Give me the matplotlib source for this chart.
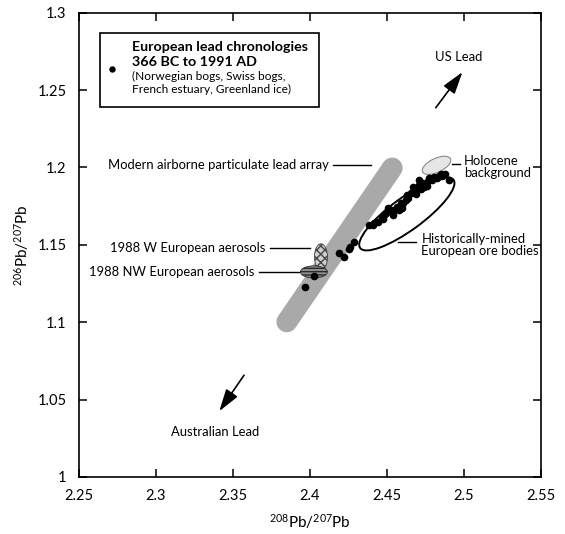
import numpy as np
import matplotlib
matplotlib.use('Agg')
import matplotlib.pyplot as plt
from matplotlib.patches import Ellipse, Rectangle

plt.rcParams['font.family'] = ['Lato', 'DejaVu Sans']
plt.rcParams['mathtext.default'] = 'regular'

# European lead chronologies (208Pb/207Pb, 206Pb/207Pb)
chron_x = [2.3965, 2.4025, 2.4191, 2.4224, 2.4252, 2.4263, 2.4289,
           2.4386, 2.4407, 2.4418, 2.4440, 2.4472, 2.4468, 2.4483, 2.4494,
           2.4510, 2.4526, 2.4537, 2.4548, 2.4569, 2.4580, 2.4590, 2.4600,
           2.4602, 2.4623, 2.4634, 2.4640, 2.4656, 2.4667, 2.4678, 2.4690,
           2.4699, 2.4710, 2.4710, 2.4720, 2.4731, 2.4742, 2.4760, 2.4764,
           2.4775, 2.4796, 2.4807, 2.4829, 2.4840, 2.4850, 2.4861, 2.4880,
           2.4904]
chron_y = [1.1225, 1.1300, 1.1446, 1.1424, 1.1472, 1.1489, 1.1521,
           1.1629, 1.1629, 1.1640, 1.1650, 1.1666, 1.1672, 1.1694, 1.1705,
           1.1740, 1.1726, 1.1694, 1.1726, 1.1747, 1.1726, 1.1770, 1.1740,
           1.1769, 1.1791, 1.1823, 1.1800, 1.1834, 1.1877, 1.1844, 1.1830,
           1.1866, 1.1888, 1.1920, 1.1860, 1.1898, 1.1877, 1.1880, 1.1909,
           1.1931, 1.1920, 1.1941, 1.1931, 1.1946, 1.1960, 1.1946, 1.1955,
           1.1920]

# modern airborne particulate lead array (end points of the band)
array_x = [2.3850, 2.4535]
array_y = [1.1002, 1.1997]

# fields: centre x, centre y, width, height, angle
ore_field = (2.4630, 1.1700, 0.0750, 0.0210, 36)
holocene_field = (2.4823, 1.2014, 0.0200, 0.0090, 25)
w_aerosol = (2.4072, 1.1422, 0.0085, 0.0170, 0)
nw_aerosol = (2.4026, 1.1325, 0.0175, 0.0078, 0)

xticks = [2.25, 2.3, 2.35, 2.4, 2.45, 2.5, 2.55]
yticks = [1, 1.05, 1.1, 1.15, 1.2, 1.25, 1.3]

fig = plt.figure(figsize=(5.65, 5.34), dpi=100)
ax = fig.add_axes([0.140, 0.107, 0.817, 0.869])

# band
ax.plot(array_x, array_y, color='#a9a9a9', lw=15, solid_capstyle='round', zorder=1)

# holocene background
cx, cy, w, h, a = holocene_field
ax.add_patch(Ellipse((cx, cy), w, h, angle=a, facecolor='#e6e6e6',
                     edgecolor='#8a8a8a', lw=0.8, zorder=2))

# historically mined ore bodies
cx, cy, w, h, a = ore_field
ax.add_patch(Ellipse((cx, cy), w, h, angle=a, facecolor='none',
                     edgecolor='black', lw=1.4, zorder=3))

# aerosols
cx, cy, w, h, a = w_aerosol
ax.add_patch(Ellipse((cx, cy), w, h, angle=a, facecolor='#cfcfcf',
                     edgecolor='#444444', hatch='xxxx', lw=0.6, zorder=3))
cx, cy, w, h, a = nw_aerosol
ax.add_patch(Ellipse((cx, cy), w, h, angle=a, facecolor='#8f8f8f',
                     edgecolor='#2a2a2a', hatch='-----', lw=0.6, zorder=4))

# data points
ax.plot(chron_x, chron_y, 'o', color='black', ms=4.5, zorder=5)

fs = 9.4
# labels with leader lines
ax.text(2.4125, 1.2017, 'Modern airborne particulate lead array', ha='right',
        va='center', fontsize=fs)
ax.plot([2.4150, 2.4400], [1.2017, 1.2017], color='black', lw=1)

ax.text(2.3710, 1.1480, '1988 W European aerosols', ha='right', va='center', fontsize=fs)
ax.plot([2.3740, 2.4000], [1.1480, 1.1480], color='black', lw=1)

ax.text(2.3640, 1.1325, '1988 NW European aerosols', ha='right', va='center', fontsize=fs)
ax.plot([2.3670, 2.3930], [1.1325, 1.1325], color='black', lw=1)

ax.text(2.5000, 1.2000, 'Holocene\nbackground', ha='left', va='center',
        fontsize=fs, linespacing=1.0)
ax.plot([2.4925, 2.4975], [1.2023, 1.2023], color='black', lw=1)

ax.text(2.4725, 1.1500, 'Historically-mined\nEuropean ore bodies', ha='left',
        va='center', fontsize=fs, linespacing=1.0)
ax.plot([2.4574, 2.4690], [1.1520, 1.1520], color='black', lw=1)

# arrows
ax.annotate('', xy=(2.5002, 1.2631), xytext=(2.4807, 1.2372),
            arrowprops=dict(arrowstyle='-|>,head_length=0.9,head_width=0.28',
                            color='black', lw=1.2, mutation_scale=15))
ax.text(2.4969, 1.2715, 'US Lead', ha='center', va='center', fontsize=fs)

ax.annotate('', xy=(2.3401, 1.0410), xytext=(2.3582, 1.0672),
            arrowprops=dict(arrowstyle='-|>,head_length=0.9,head_width=0.28',
                            color='black', lw=1.2, mutation_scale=15))
ax.text(2.3381, 1.0291, 'Australian Lead', ha='center', va='center', fontsize=fs)

# legend box
ax.add_patch(Rectangle((2.2636, 1.2392), 0.1426, 0.0478, facecolor='white',
                       edgecolor='black', lw=1.2, zorder=6))
ax.plot([2.2712], [1.2636], 'o', color='black', ms=3.6, zorder=7)
ax.text(2.2841, 1.2781, 'European lead chronologies', fontsize=10.3,
        fontweight='bold', va='center', zorder=7)
ax.text(2.2841, 1.2685, '366 BC to 1991 AD', fontsize=10.3,
        fontweight='bold', va='center', zorder=7)
ax.text(2.2841, 1.2586, '(Norwegian bogs, Swiss bogs,', fontsize=8.6,
        va='center', zorder=7)
ax.text(2.2841, 1.2506, 'French estuary, Greenland ice)', fontsize=8.6,
        va='center', zorder=7)

ax.set_xlim(2.25, 2.55)
ax.set_ylim(1.0, 1.3)
ax.set_xticks(xticks)
ax.set_xticklabels(['2.25', '2.3', '2.35', '2.4', '2.45', '2.5', '2.55'])
ax.set_yticks(yticks)
ax.set_yticklabels(['1', '1.05', '1.1', '1.15', '1.2', '1.25', '1.3'])
ax.tick_params(direction='in', length=6, width=1.1, top=True, right=True,
               labelsize=10.5, pad=9)
for s in ax.spines.values():
    s.set_linewidth(1.2)

ax.set_xlabel('$^{208}$Pb/$^{207}$Pb', fontsize=11, labelpad=6)
ax.set_ylabel('$^{206}$Pb/$^{207}$Pb', fontsize=11, labelpad=8)
ax.yaxis.set_label_coords(-0.105, 0.50)

fig.savefig('out.png', dpi=100)
